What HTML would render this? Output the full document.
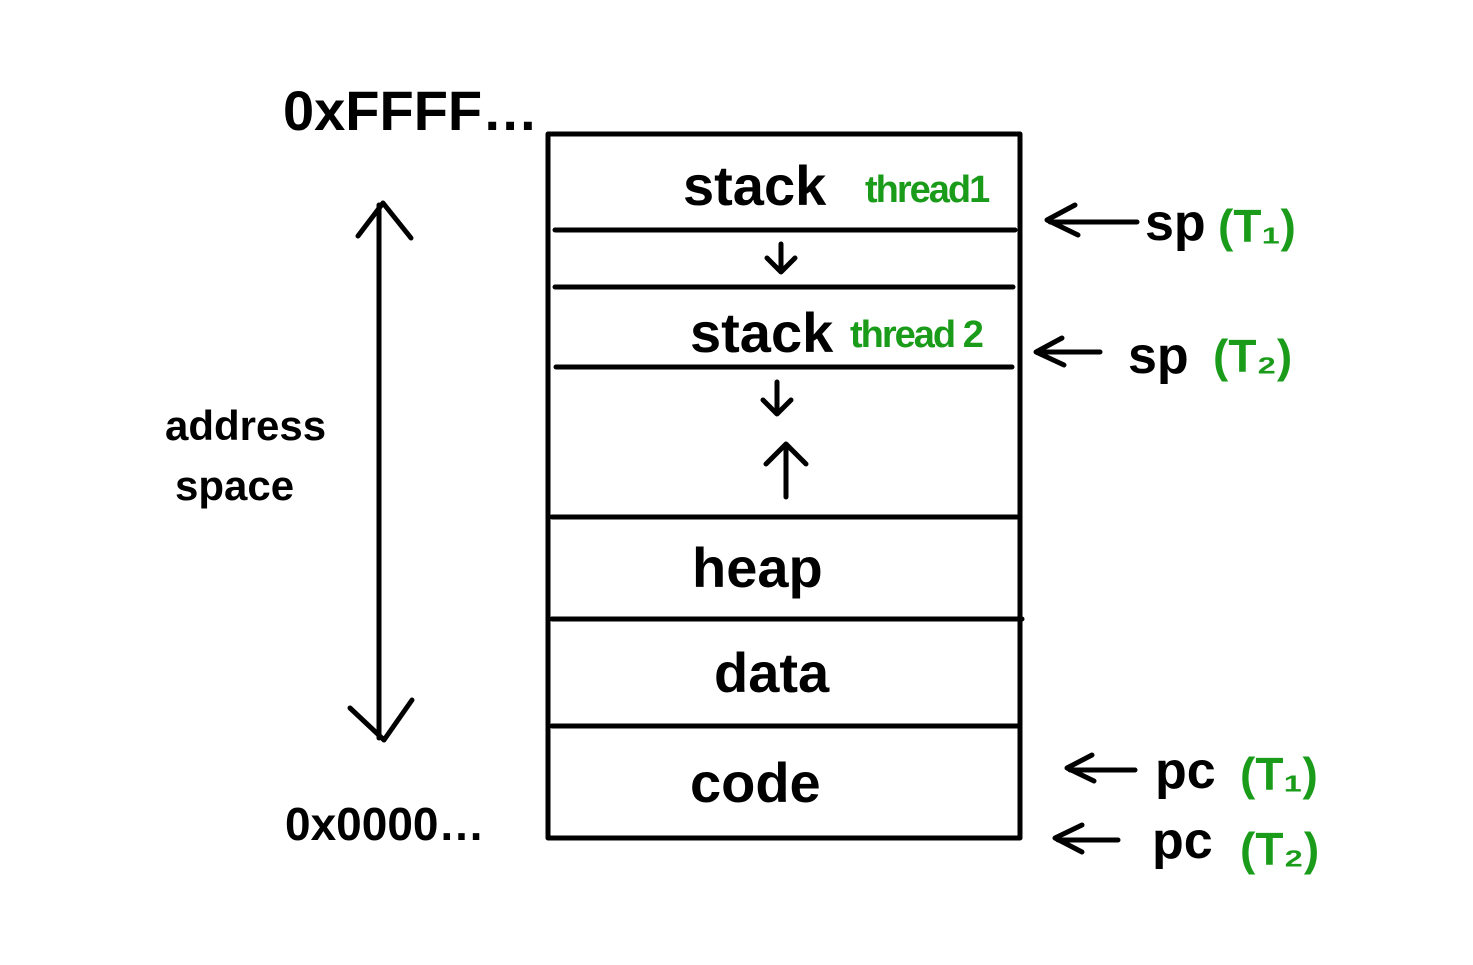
<!DOCTYPE html>
<html><head><meta charset="utf-8"><style>
html,body{margin:0;padding:0;background:#fff;width:1473px;height:965px;overflow:hidden}
svg text{font-family:"Liberation Sans",sans-serif;font-weight:bold}
</style></head><body>
<svg width="1473" height="965" viewBox="0 0 1473 965" xmlns="http://www.w3.org/2000/svg">
<g stroke="#000" stroke-width="5" fill="none" stroke-linecap="round" stroke-linejoin="round">
<rect x="548" y="134" width="472" height="704"/>
<line x1="555" y1="230" x2="1015" y2="230"/>
<line x1="555" y1="287" x2="1013" y2="287"/>
<line x1="556" y1="367" x2="1012" y2="367"/>
<line x1="552" y1="517" x2="1017" y2="517"/>
<line x1="552" y1="619" x2="1022" y2="619"/>
<line x1="552" y1="726" x2="1018" y2="726"/>
<!-- small arrows -->
<path d="M781 244 V270 M767 258 L781 272 L795 258"/>
<path d="M777 382 V412 M763 400 L777 414 L791 400"/>
<path d="M786 497 V445 M766 464 L786 444 L806 464"/>
<!-- big double arrow -->
<path d="M379 205 V738 M358 236 L383 203 L411 238 M350 708 L384 740 L412 700"/>
<!-- side arrows -->
<path d="M1137 222 H1050 M1075 205 L1047 220 L1078 235"/>
<path d="M1100 352 H1040 M1062 338 L1036 352 L1064 365"/>
<path d="M1135 770 H1070 M1092 755 L1067 768 L1094 781"/>
<path d="M1118 840 H1058 M1082 825 L1055 838 L1082 852"/>
</g>
<g fill="#000">
<text x="283" y="130" font-size="56">0xFFFF…</text>
<text x="285" y="840" font-size="46">0x0000…</text>
<text x="683" y="205" font-size="56">stack</text>
<text x="690" y="352" font-size="56">stack</text>
<text x="692" y="587" font-size="56">heap</text>
<text x="714" y="692" font-size="56">data</text>
<text x="690" y="802" font-size="56">code</text>
<text x="165" y="440" font-size="42">address</text>
<text x="175" y="500" font-size="42">space</text>
<text x="1145" y="240" font-size="52">sp</text>
<text x="1128" y="373" font-size="52">sp</text>
<text x="1155" y="788" font-size="52">pc</text>
<text x="1152" y="858" font-size="52">pc</text>
</g>
<g fill="#1a9c1a">
<text x="865" y="202" font-size="38" letter-spacing="-2">thread1</text>
<text x="850" y="347" font-size="38" letter-spacing="-2">thread 2</text>
<text x="1218" y="242" font-size="46">(T₁)</text>
<text x="1213" y="372" font-size="46">(T₂)</text>
<text x="1240" y="790" font-size="46">(T₁)</text>
<text x="1240" y="865" font-size="46">(T₂)</text>
</g>
</svg>
</body></html>
